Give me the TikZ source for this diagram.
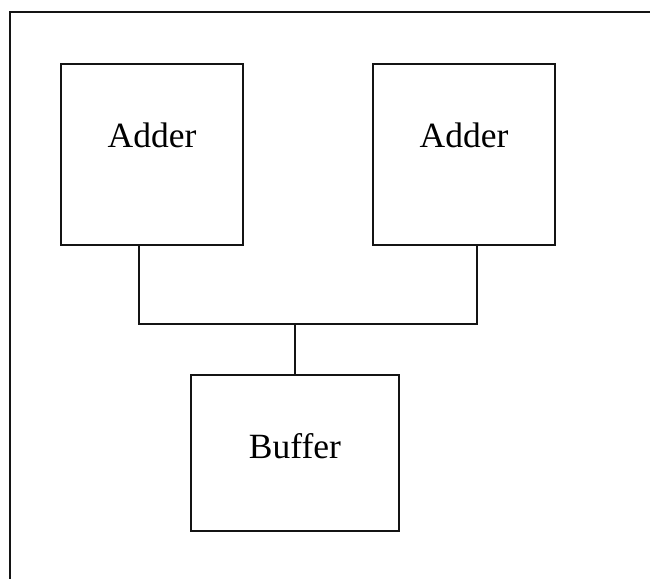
\documentclass[tikz,border=0pt]{standalone}
\usepackage{fontspec}
\setmainfont{Liberation Serif}
\usetikzlibrary{positioning}
\definecolor{ink}{RGB}{20,20,20}

\begin{document}
\begin{tikzpicture}[x=1pt,y=-1pt,
    unitbox/.style={draw=ink,line width=2pt,inner sep=0pt,outer sep=0pt,
      font=\fontsize{35.5}{42}\selectfont,text height=23pt},
    wire/.style={draw=ink,line width=2pt}]
  \useasboundingbox (0,0) rectangle (650,579);
  % open frame, top and left only
  \draw[wire] (650,12) -- (10,12) -- (10,579);

  \node[unitbox,minimum width=182pt,minimum height=181pt,text depth=38pt]
    (adderA) at (152,154.5) {Adder};
  \node[unitbox,minimum width=182pt,minimum height=181pt,text depth=38pt]
    (adderB) at (464,154.5) {Adder};
  \node[unitbox,minimum width=208pt,minimum height=156pt,text depth=13pt]
    (buffer) at (295,453) {Buffer};

  % bus joining the two adders to the buffer
  \coordinate (busA) at (139,324);
  \coordinate (busB) at (477,324);
  \draw[wire] (busA |- adderA.south) -- (busA) -- (busB) -- (busB |- adderB.south);
  \draw[wire] (buffer.north) -- (buffer.north |- busA);
\end{tikzpicture}
\end{document}
